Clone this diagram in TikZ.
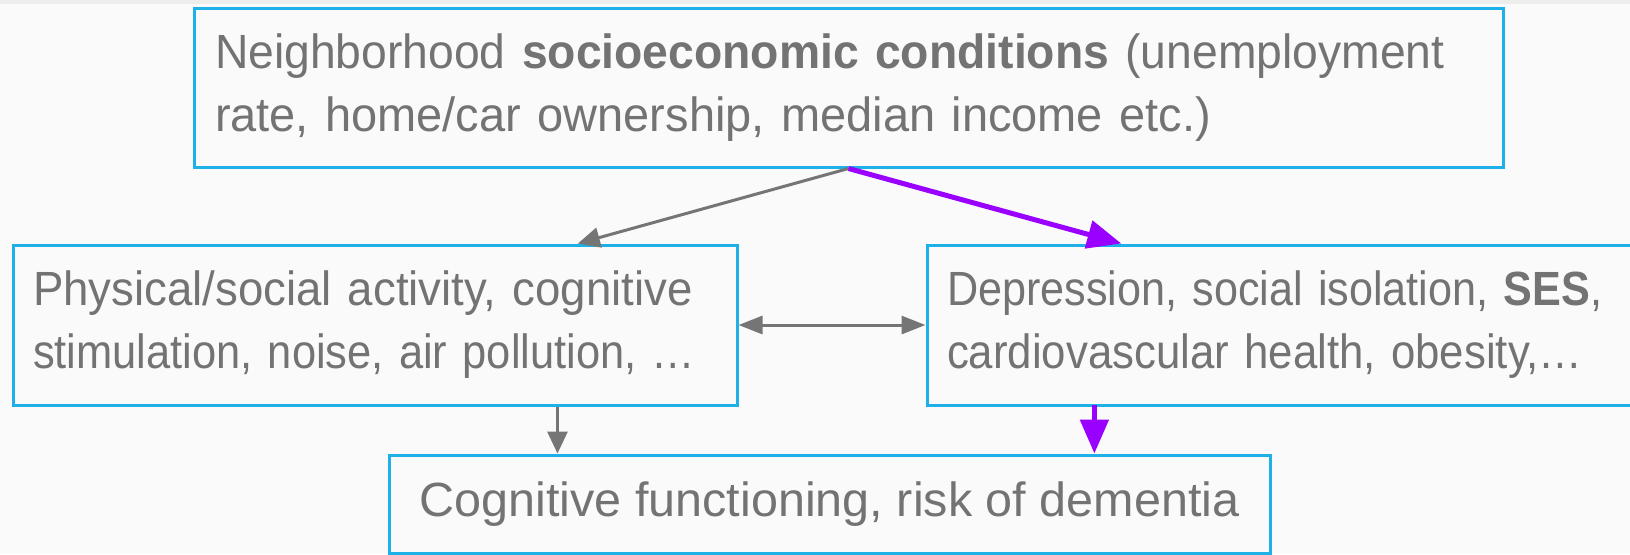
\documentclass[tikz,border=0pt]{standalone}
\usepackage{graphicx}
\usepackage{fontspec}
\setmainfont[FakeStretch=0.95]{Liberation Sans}
\usetikzlibrary{arrows.meta,calc}
\definecolor{bg}{HTML}{FAFAFA}
\definecolor{strip}{HTML}{EDEDED}
\definecolor{boxc}{HTML}{1EB1E8}
\definecolor{txt}{HTML}{737373}
\definecolor{arr}{HTML}{757575}
\definecolor{purp}{HTML}{9900FF}
\newcommand{\fitline}[2]{\scalebox{#1}[1]{#2}}
\begin{document}
\begin{tikzpicture}[x=0.5pt,y=-0.5pt,
  box/.style={draw=boxc, line width=1.5pt, rectangle, inner sep=0pt, text=txt,
    font=\fontsize{24}{31.5}\selectfont},
  garrow/.style={draw=arr, line width=1.5pt, -{Triangle[length=11pt,width=10pt]}},
  parrow/.style={draw=purp, line width=2.5pt, -{Triangle[length=17pt,width=14pt]}},
  darrow/.style={draw=arr, line width=1.5pt, {Triangle[length=12pt,width=9pt]}-{Triangle[length=12pt,width=9pt]}}]
\fill[bg] (0,0) rectangle (1630,554);
\fill[strip] (0,0) rectangle (1630,4);
\useasboundingbox (0,0) rectangle (1630,554);
\clip (0,0) rectangle (1630,554);

\node[box, minimum width=654.5pt, minimum height=79.5pt, text width=633.5pt, align=left]
  (top) at (848.5,87.5)
  {\mbox{\fitline{1.015}{Neighborhood \textbf{socioeconomic conditions} (unemployment}}\\
   \mbox{\fitline{1.03}{rate, home/car ownership, median income etc.)}}};

\node[box, minimum width=362pt, minimum height=80pt, text width=342pt, align=left]
  (left) at (375,325)
  {\mbox{Physical/social activity, cognitive}\\
   \mbox{\fitline{0.953}{stimulation, noise, air pollution, …}}};

\node[box, minimum width=362.5pt, minimum height=80pt, text width=342.5pt, align=left]
  (right) at (1289.5,325)
  {\mbox{\fitline{0.947}{Depression, social isolation, \textbf{SES},}}\\
   \mbox{\fitline{0.96}{cardiovascular health, obesity,…}}};

\node[box, minimum width=440.5pt, minimum height=49pt, align=center]
  (bot) at (829.5,504)
  {\fitline{1.064}{Cognitive functioning, risk of dementia}};

\draw[garrow] (top.south) -- ($(left.north west)!0.779!(left.north east)$);
\draw[parrow] (top.south) -- ($(right.north west)!0.269!(right.north east)$);
\draw[darrow] (left.east) -- (right.west);
\coordinate (ld) at ($(left.south west)!0.751!(left.south east)$);
\draw[garrow] (ld) -- (ld |- bot.north);
\coordinate (rd) at ($(right.south west)!0.232!(right.south east)$);
\draw[parrow] ([yshift=1pt]rd) -- (rd |- bot.north);
\end{tikzpicture}
\end{document}
